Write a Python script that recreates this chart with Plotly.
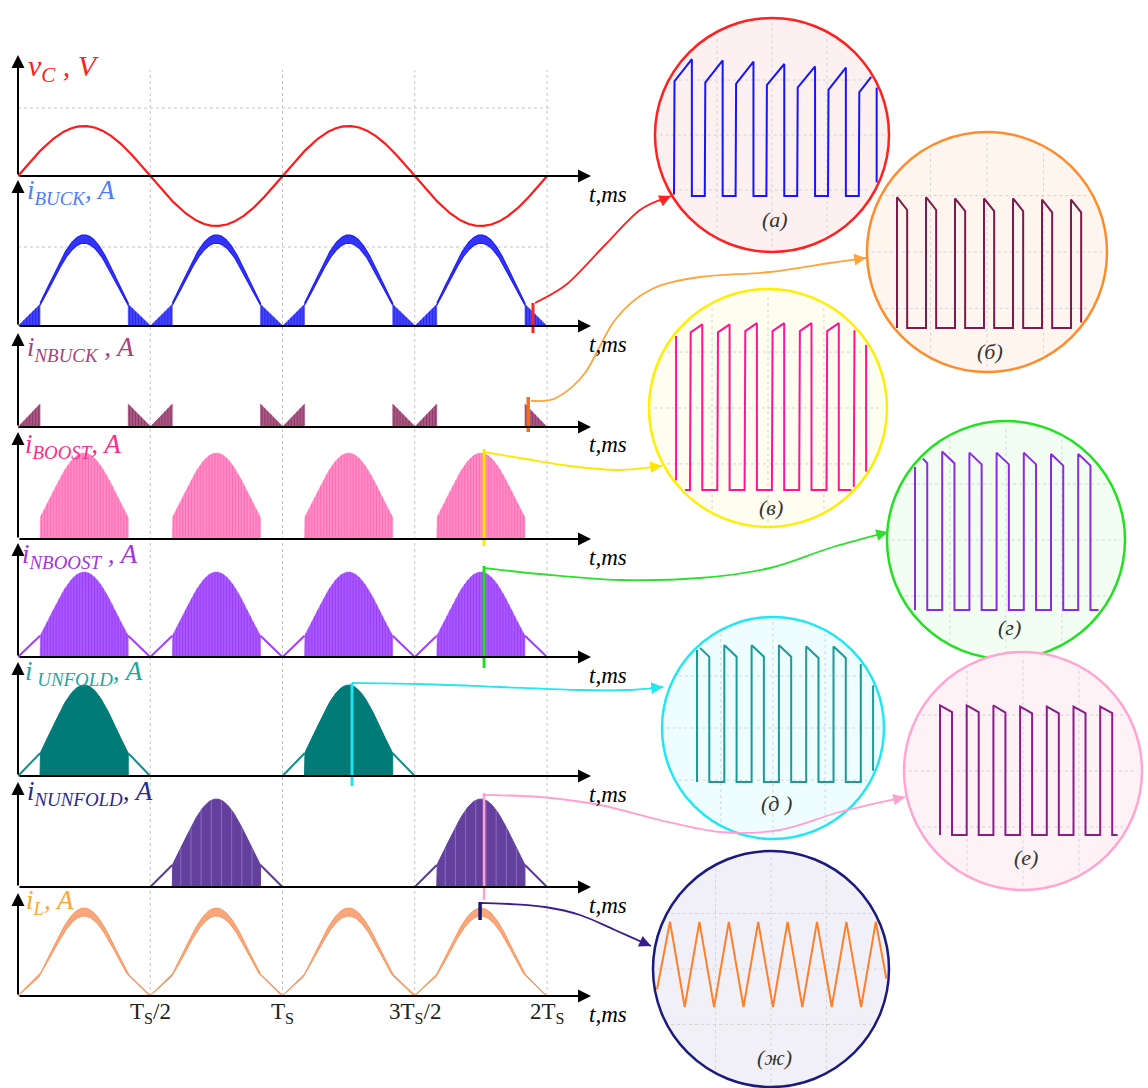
import numpy as np
import plotly.graph_objects as go

W, H = 1148, 1088
FONT = "Liberation Serif"

# ---------------- waveform data ----------------
T_END = 2.0                      # simulated span, in Ts
TS_MARKS = [0.5, 1.0, 1.5, 2.0]
TS_LABELS = ["T<sub>S</sub>/2", "T<sub>S</sub>", "3T<sub>S</sub>/2", "2T<sub>S</sub>"]
V_PEAK = 311.0                   # capacitor voltage amplitude, V
I_PEAK = 10.0                    # current envelope peak, A
ZONE_DEG = 30.0                  # interval around each zero crossing of v_C
SHOULDER = 0.25                  # envelope level at the edge of that interval
RIPPLE_PEAK = 0.95               # ripple band height at the envelope peak, A
N_SW = 90                        # switching periods per Ts
N_SW_SPARSE = 26

PANEL_LABELS = [
    "<i>v<sub>C</sub> , V</i>",
    "<i>i<sub>BUCK</sub>, A</i>",
    "<i>i<sub>NBUCK</sub> , A</i>",
    "<i>i<sub>BOOST</sub>, A</i>",
    "<i>i<sub>NBOOST</sub> , A</i>",
    "<i>i<sub> UNFOLD</sub>, A</i>",
    "<i>i<sub>NUNFOLD</sub>, A</i>",
    "<i>i<sub>L</sub>, A</i>",
]
AXIS_UNIT = "<i>t,ms</i>"

# instants shown in the zoomed views, in Ts
ZOOM_T = [1.947, 1.929, 1.762, 1.762, 1.263, 1.762, 1.747]

# zoomed switching waveforms: time in switching periods, current in A
A_TOP_START = [9.5, 9.4, 9.3, 9.2, 9.0, 8.8, 8.6]
A_TOP_END = [11.4, 11.3, 11.2, 11.0, 10.8, 10.7, 10.5]
A_DUTY = 0.58

B_TOP_START = [10.9, 10.9, 10.8, 10.8, 10.8, 10.7, 10.7]
B_TOP_END = [9.9, 9.9, 9.8, 9.8, 9.8, 9.7, 9.7]
B_DUTY = 0.35

C_LEAD = (-0.51, 12.9)
C_TOP_START = [13.1, 13.1, 13.2, 13.2, 13.2, 13.2, 13.2]
C_TOP_END = [13.8, 13.8, 13.9, 13.9, 13.9, 13.9, 13.9]
C_DUTY = 0.45

D_TOP_START = [13.2, 13.2, 13.1, 13.1, 13.1, 13.0, 13.0]
D_TOP_END = [12.3, 12.3, 12.2, 12.2, 12.2, 12.1, 12.1]
D_DUTY = 0.45

E_TOP_START = [11.4, 11.4, 11.4, 11.4, 11.3, 11.3, 11.3]
E_TOP_END = [10.5, 10.5, 10.5, 10.5, 10.4, 10.4, 10.4]
E_DUTY = 0.45

F_TOP_START = [10.8, 10.8, 10.8, 10.7, 10.7, 10.7, 10.7]
F_TOP_END = [10.25, 10.25, 10.2, 10.2, 10.2, 10.15, 10.15]
F_DUTY = 0.45

G_START = (-0.51, 0.6)
G_PEAKS = [7.1, 7.1, 7.1, 7.1, 7.1, 7.1, 7.1, 7.1]
G_TROUGHS = [0.0, 0.0, 0.0, 0.0, 0.0, 0.0, 0.0]
G_END = (7.41, 1.7)

INSET_TAGS = ["<i>(а)</i>", "<i>(б)</i>", "<i>(в)</i>", "<i>(г)</i>",
              "<i>(д )</i>", "<i>(е)</i>", "<i>(ж)</i>"]

# ---------------- layout geometry (pixels) ----------------
X0_PX, PX_PER_TS, X_TIP_PX = 18, 264.5, 591
PANEL_BASE = [176, 326, 427, 539, 657, 776, 887, 996]
PANEL_TIP = [55, 180, 333, 432, 543, 662, 782, 893]
PANEL_LOW = [232, 330, 431, 543, 661, 780, 891, 1000]
PANEL_SCALE = [50 / 311, 8.7, 9.2, 8.6, 8.5, 9.1, 8.8, 8.4]   # px per unit
LABEL_POS = [(26, 68), (25, 192), (25, 349), (23, 446), (20, 556),
             (23, 673), (25, 793), (24, 902)]
LABEL_SIZE = [30, 27, 27, 27, 27, 27, 27, 27]
LABEL_COLORS = ["#FF2020", "#4D7CFF", "#A3457E", "#FF2A88", "#A235E0",
                "#22A6A0", "#2B2B8C", "#FFA531"]

# circles: cx, cy, r, px of t=0, px per switching period, px of 0 A, px per A, tag y
INSETS = [
    dict(cx=772, cy=135, r=117, x0=674, per=30.8, yb=196, s=12, tag=220,
         ring="#FF2020", fill="#FDF0F0", wave="#1515FF"),
    dict(cx=987, cy=252, r=120, x0=897, per=29.0, yb=328, s=12, tag=352,
         ring="#FF8C2A", fill="#FEF5EE", wave="#7E1A4E"),
    dict(cx=768, cy=408, r=119, x0=690, per=27.3, yb=490, s=12, tag=507,
         ring="#FFEE00", fill="#FEFEF0", wave="#FF1493"),
    dict(cx=1006, cy=540, r=119, x0=915, per=27.2, yb=610, s=12, tag=627,
         ring="#22E022", fill="#F3FEF3", wave="#8A2BE2"),
    dict(cx=773, cy=728, r=111, x0=697, per=27.3, yb=782, s=12, tag=803,
         ring="#22E6F2", fill="#EEFDFE", wave="#1C9A9A"),
    dict(cx=1023, cy=771, r=119, x0=940, per=26.7, yb=835, s=12, tag=857,
         ring="#FFA5D0", fill="#FEF2F7", wave="#8B1C8B"),
    dict(cx=771, cy=969, r=118, x0=670, per=29.4, yb=1007, s=12, tag=1057,
         ring="#1A1A80", fill="#F2F0F7", wave="#FF7F2A"),
]

# zoom markers: panel index, top px, bottom px, colour, width
MARKS = [(1, 303, 333, "#FF2020", 3), (2, 397, 432, "#F07020", 3.5),
         (3, 449, 546, "#FFE800", 3), (4, 566, 668, "#22DD22", 3),
         (5, 683, 786, "#22E0F0", 3), (6, 793, 900, "#FFA0D0", 2.5),
         (7, 902, 920, "#1A1A70", 3.5)]

# connector curves (waypoints in px), last point is the arrow tip
CONNECTORS = [
    ("#FF2020", [(535, 303), (567, 284), (605, 245), (640, 210), (671, 196)]),
    ("#FFA43A", [(531, 401), (556, 398), (585, 373), (615, 320), (650, 290),
                 (700, 277), (770, 272), (830, 263), (866, 258)]),
    ("#FFE600", [(484, 452), (520, 458), (570, 466), (620, 470), (662, 466)]),
    ("#2EE02E", [(484, 568), (540, 574), (620, 580), (700, 578), (770, 568),
                 (830, 548), (888, 532)]),
    ("#22E6F2", [(352, 683), (420, 684), (500, 687), (580, 690), (630, 690),
                 (663, 687)]),
    ("#FFA0D0", [(484, 795), (540, 797), (600, 805), (660, 820), (720, 832),
                 (780, 830), (840, 812), (905, 797)]),
    ("#3A1D8C", [(481, 903), (510, 904), (545, 907), (580, 915), (615, 930),
                 (651, 946)]),
]


def px(x, y):
    return x / W, 1 - y / H


def envelope(t):
    phi = np.degrees(2 * np.pi * np.asarray(t, dtype=float)) % 180.0
    e = np.sin(np.radians(phi)) ** 2
    e = np.where(phi < ZONE_DEG, SHOULDER * phi / ZONE_DEG, e)
    e = np.where(phi > 180 - ZONE_DEG, SHOULDER * (180 - phi) / ZONE_DEG, e)
    return e


Z = ZONE_DEG / 360.0
HALVES = [(k / 2, (k + 1) / 2) for k in range(int(T_END * 2))]
CORES = [(a + Z, b - Z) for a, b in HALVES]
ZONES = [(max(0.0, c - Z), min(T_END, c + Z)) for c in np.arange(0, T_END + 0.01, 0.5)]


def area(a, b, n=200):
    xs = np.linspace(a, b, n)
    ys = I_PEAK * envelope(xs)
    return np.r_[a, xs, b], np.r_[0, ys, 0]


def stripes(a, b, nsw):
    ts = np.arange(np.ceil(a * nsw), np.floor(b * nsw) + 1) / nsw
    xs, ys = [], []
    for tk in ts:
        xs += [tk, tk, None]
        ys += [0, float(I_PEAK * envelope(tk)), None]
    return xs, ys


def band(a, b, n=500, min_rip=0.0):
    xs = np.linspace(a, b, n)
    e = envelope(xs)
    rip = np.maximum(RIPPLE_PEAK * e, min_rip)
    up = I_PEAK * e + rip / 2
    lo = np.maximum(I_PEAK * e - rip / 2, 0)
    return np.r_[xs, xs[::-1]], np.r_[up, lo[::-1]]


def ramp(a, b, n=40):
    xs = np.linspace(a, b, n)
    return xs, I_PEAK * envelope(xs)


def pulse_train(top_start, top_end, duty, lead=None, tail=0.0):
    xs, ys = [], []
    if lead is not None:
        xs += [lead[0], lead[0], 0.0]
        ys += [lead[1], 0.0, 0.0]
    n = len(top_start)
    for k in range(n):
        xs += [k, k, k + duty, k + duty, (k + 1) if k < n - 1 else k + duty + tail]
        ys += [0.0, top_start[k], top_end[k], 0.0, 0.0]
    return xs, ys


def triangle(start, peaks, troughs, end):
    xs, ys = [start[0]], [start[1]]
    for k, p in enumerate(peaks):
        xs.append(k)
        ys.append(p)
        if k < len(troughs):
            xs.append(k + 0.5)
            ys.append(troughs[k])
    xs.append(end[0])
    ys.append(end[1])
    return xs, ys


def clip_to_circle(xs, ys, ins, step=0.8):
    """Keep only the parts of a waveform that fall inside its magnifier circle."""
    cx, cy, r = ins["cx"], ins["cy"], ins["r"]
    pts = [(ins["x0"] + x * ins["per"], ins["yb"] - y * ins["s"]) for x, y in zip(xs, ys)]
    dense = []
    for (x1, y1), (x2, y2) in zip(pts[:-1], pts[1:]):
        n = max(1, int(np.hypot(x2 - x1, y2 - y1) / step))
        for k in range(n):
            f = k / n
            dense.append((x1 + (x2 - x1) * f, y1 + (y2 - y1) * f))
    dense.append(pts[-1])
    lim2 = (r - 2.0) ** 2
    ox, oy = [], []
    for X, Y in dense:
        if (X - cx) ** 2 + (Y - cy) ** 2 <= lim2:
            ox.append((X - ins["x0"]) / ins["per"])
            oy.append((ins["yb"] - Y) / ins["s"])
        elif ox and ox[-1] is not None:
            ox.append(None)
            oy.append(None)
    return ox, oy


fig = go.Figure()
layout_axes = {}
shapes, annotations = [], []


def refs(idx):
    return ("x", "y") if idx == 1 else (f"x{idx}", f"y{idx}")


def add_axes(idx, xdom, ydom, xr, yr):
    xn = "xaxis" if idx == 1 else f"xaxis{idx}"
    yn = "yaxis" if idx == 1 else f"yaxis{idx}"
    xr_, yr_ = refs(idx)
    layout_axes[xn] = dict(domain=xdom, range=xr, visible=False, fixedrange=True, anchor=yr_)
    layout_axes[yn] = dict(domain=ydom, range=yr, visible=False, fixedrange=True, anchor=xr_)


def add(idx, x, y, color, width=1.0, fill=None, fillcolor=None):
    xr_, yr_ = refs(idx)
    fig.add_trace(go.Scatter(
        x=list(x), y=list(y), mode="lines", xaxis=xr_, yaxis=yr_,
        line=dict(color=color, width=width), fill=fill, fillcolor=fillcolor,
        hoverinfo="skip", showlegend=False))


# ---------------- left-hand panels ----------------
T_TIP = (X_TIP_PX - X0_PX) / PX_PER_TS
for i in range(8):
    s = PANEL_SCALE[i]
    add_axes(i + 1,
             [X0_PX / W, X_TIP_PX / W],
             [1 - PANEL_LOW[i] / H, 1 - PANEL_TIP[i] / H],
             [0, T_TIP],
             [-(PANEL_LOW[i] - PANEL_BASE[i]) / s, (PANEL_BASE[i] - PANEL_TIP[i]) / s])

t = np.linspace(0, T_END, 2401)

# v_C
add(1, t, V_PEAK * np.sin(2 * np.pi * t), "#FF1A1A", 2.2)

# i_BUCK: continuous band away from the crossings, chopped near them
for a, b in CORES:
    bx, by = band(a, b)
    add(2, bx, by, "#2222EE", 1.2, "toself", "#3333FF")
for a, b in ZONES:
    ax_, ay_ = area(a, b, 60)
    add(2, ax_, ay_, "#3A3AFF", 0.5, "toself", "#4545FF")
    sx, sy = stripes(a, b, N_SW)
    add(2, sx, sy, "#1F1FE0", 0.8)

# i_NBUCK
add(3, [0, T_END], [0, 0], "#7B1D4C", 2)
for a, b in ZONES:
    ax_, ay_ = area(a, b, 60)
    add(3, ax_, ay_, "#9A3C6C", 0.5, "toself", "#A85A85")
    sx, sy = stripes(a, b, N_SW)
    add(3, sx, sy, "#8A2F60", 0.8)

# i_BOOST
for a, b in CORES:
    ax_, ay_ = area(a, b)
    add(4, ax_, ay_, "#FF78BA", 0.5, "toself", "#FF8CC5")
    sx, sy = stripes(a, b, N_SW)
    add(4, sx, sy, "#FF62AE", 0.7)

# i_NBOOST
for a, b in CORES:
    ax_, ay_ = area(a, b)
    add(5, ax_, ay_, "#A048FF", 0.5, "toself", "#AA58FF")
    sx, sy = stripes(a, b, N_SW)
    add(5, sx, sy, "#9233F2", 0.7)
for a, b in ZONES:
    rx, ry = ramp(a, b)
    add(5, rx, ry, "#A040FA", 2)

# i_UNFOLD (positive half-cycles) and i_NUNFOLD (negative half-cycles)
for k, (a, b) in enumerate(HALVES):
    idx = 6 if k % 2 == 0 else 7
    core_a, core_b = CORES[k]
    ax_, ay_ = area(core_a, core_b)
    if idx == 6:
        add(6, ax_, ay_, "#007B78", 1, "toself", "#007B78")
        ramp_col = "#168C8A"
    else:
        add(7, ax_, ay_, "#62409C", 1, "toself", "#64409E")
        sx, sy = stripes(core_a, core_b, N_SW_SPARSE)
        add(7, sx, sy, "#9078C4", 0.8)
        ramp_col = "#5B3D99"
    for za, zb in [(a, a + Z), (b - Z, b)]:
        rx, ry = ramp(za, zb)
        add(idx, rx, ry, ramp_col, 2)

# i_L
bx, by = band(0, T_END, 1600, 0.12)
add(8, bx, by, "#F8995F", 1.0, "toself", "#F9A67C")

# axes with arrowheads, unit labels, panel labels
for i in range(8):
    xr_, yr_ = refs(i + 1)
    s = PANEL_SCALE[i]
    y_tip = (PANEL_BASE[i] - PANEL_TIP[i]) / s
    annotations.append(dict(x=T_TIP, y=0, ax=0, ay=0, xref=xr_, yref=yr_, axref=xr_, ayref=yr_,
                            text="", showarrow=True, arrowhead=2, arrowsize=1.3,
                            arrowwidth=2, arrowcolor="black"))
    annotations.append(dict(x=0, y=y_tip, ax=0, ay=0, xref=xr_, yref=yr_, axref=xr_, ayref=yr_,
                            text="", showarrow=True, arrowhead=2, arrowsize=1.3,
                            arrowwidth=2, arrowcolor="black"))
    ux, uy = px(587, PANEL_BASE[i] + 18)
    annotations.append(dict(x=ux, y=uy, xref="paper", yref="paper", text=AXIS_UNIT,
                            showarrow=False, xanchor="left", yanchor="middle",
                            font=dict(family=FONT, size=23, color="black")))
    lx, ly = px(*LABEL_POS[i])
    annotations.append(dict(x=lx, y=ly, xref="paper", yref="paper", text=PANEL_LABELS[i],
                            showarrow=False, xanchor="left", yanchor="middle",
                            font=dict(family=FONT, size=LABEL_SIZE[i], color=LABEL_COLORS[i])))

for tm, lab in zip(TS_MARKS, TS_LABELS):
    annotations.append(dict(x=tm, y=1 - 1013 / H, xref="x8", yref="paper", text=lab,
                            showarrow=False, xanchor="center", yanchor="middle",
                            font=dict(family=FONT, size=23, color="#222")))

# dotted guides
for tm in TS_MARKS:
    shapes.append(dict(type="line", xref="x", yref="paper", x0=tm, x1=tm,
                       y0=1 - 996 / H, y1=1 - 70 / H, layer="below",
                       line=dict(color="#C4C4C4", width=1, dash="dot")))
for yp in (108, 247):
    shapes.append(dict(type="line", xref="x", yref="paper", x0=0, x1=2.02,
                       y0=1 - yp / H, y1=1 - yp / H, layer="below",
                       line=dict(color="#C4C4C4", width=1, dash="dot")))

# ---------------- zoomed views ----------------
inset_waves = [
    pulse_train(A_TOP_START, A_TOP_END, A_DUTY),
    pulse_train(B_TOP_START, B_TOP_END, B_DUTY, tail=0.1),
    pulse_train(C_TOP_START, C_TOP_END, C_DUTY, lead=C_LEAD),
    pulse_train(D_TOP_START, D_TOP_END, D_DUTY, tail=0.3),
    pulse_train(E_TOP_START, E_TOP_END, E_DUTY),
    pulse_train(F_TOP_START, F_TOP_END, F_DUTY, tail=0.2),
    triangle(G_START, G_PEAKS, G_TROUGHS, G_END),
]

for j, (ins, (wx, wy), tag) in enumerate(zip(INSETS, inset_waves, INSET_TAGS)):
    idx = 9 + j
    cx, cy, r = ins["cx"], ins["cy"], ins["r"]
    add_axes(idx,
             [(cx - r) / W, (cx + r) / W],
             [1 - (cy + r) / H, 1 - (cy - r) / H],
             [(cx - r - ins["x0"]) / ins["per"], (cx + r - ins["x0"]) / ins["per"]],
             [(ins["yb"] - (cy + r)) / ins["s"], (ins["yb"] - (cy - r)) / ins["s"]])
    shapes.append(dict(type="circle", xref="paper", yref="paper",
                       x0=(cx - r) / W, x1=(cx + r) / W,
                       y0=1 - (cy + r) / H, y1=1 - (cy - r) / H,
                       fillcolor=ins["fill"], line=dict(color=ins["ring"], width=2.5),
                       layer="below"))
    for f in (-0.47, 0.0, 0.47):
        o = f * r
        h = np.sqrt(r * r - o * o) * 0.96
        shapes.append(dict(type="line", xref="paper", yref="paper",
                           x0=(cx - h) / W, x1=(cx + h) / W,
                           y0=1 - (cy + o) / H, y1=1 - (cy + o) / H, layer="below",
                           line=dict(color="#D4D4D4", width=1, dash="dot")))
        shapes.append(dict(type="line", xref="paper", yref="paper",
                           x0=(cx + o) / W, x1=(cx + o) / W,
                           y0=1 - (cy + h) / H, y1=1 - (cy - h) / H, layer="below",
                           line=dict(color="#D4D4D4", width=1, dash="dot")))
    cx_, cy_ = clip_to_circle(wx, wy, ins)
    add(idx, cx_, cy_, ins["wave"], 2)
    tx, ty = px(cx + 3, ins["tag"])
    annotations.append(dict(x=tx, y=ty, xref="paper", yref="paper", text=tag,
                            showarrow=False, xanchor="center", yanchor="middle",
                            font=dict(family=FONT, size=22, color="#333")))

# zoom markers on the main traces
for (pi, ytop, ybot, col, wdt), tz in zip(MARKS, ZOOM_T):
    shapes.append(dict(type="line", xref="x", yref="paper", x0=tz, x1=tz,
                       y0=1 - ybot / H, y1=1 - ytop / H, layer="above",
                       line=dict(color=col, width=wdt)))


def smooth_path(points):
    pts = [px(*p) for p in points]
    d = f"M {pts[0][0]:.5f},{pts[0][1]:.5f}"
    for i in range(len(pts) - 1):
        p0 = pts[i - 1] if i > 0 else pts[i]
        p1, p2 = pts[i], pts[i + 1]
        p3 = pts[i + 2] if i + 2 < len(pts) else p2
        c1 = (p1[0] + (p2[0] - p0[0]) / 6, p1[1] + (p2[1] - p0[1]) / 6)
        c2 = (p2[0] - (p3[0] - p1[0]) / 6, p2[1] - (p3[1] - p1[1]) / 6)
        d += (f" C {c1[0]:.5f},{c1[1]:.5f} {c2[0]:.5f},{c2[1]:.5f}"
              f" {p2[0]:.5f},{p2[1]:.5f}")
    return d


for col, pts in CONNECTORS:
    shapes.append(dict(type="path", xref="paper", yref="paper", path=smooth_path(pts),
                       line=dict(color=col, width=1.8), layer="above"))
    (x1, y1), (x2, y2) = pts[-2], pts[-1]
    dx, dy = x2 - x1, y2 - y1
    n = np.hypot(dx, dy)
    tipx, tipy = px(x2, y2)
    annotations.append(dict(x=tipx, y=tipy, xref="paper", yref="paper",
                            ax=-dx / n * 14, ay=-dy / n * 14, text="", showarrow=True,
                            arrowhead=2, arrowsize=1.3, arrowwidth=1.8, arrowcolor=col))

fig.update_layout(
    width=W, height=H, margin=dict(l=0, r=0, t=0, b=0),
    paper_bgcolor="white", plot_bgcolor="rgba(0,0,0,0)",
    showlegend=False, shapes=shapes, annotations=annotations,
    **layout_axes,
)

fig.write_html("out.html")
